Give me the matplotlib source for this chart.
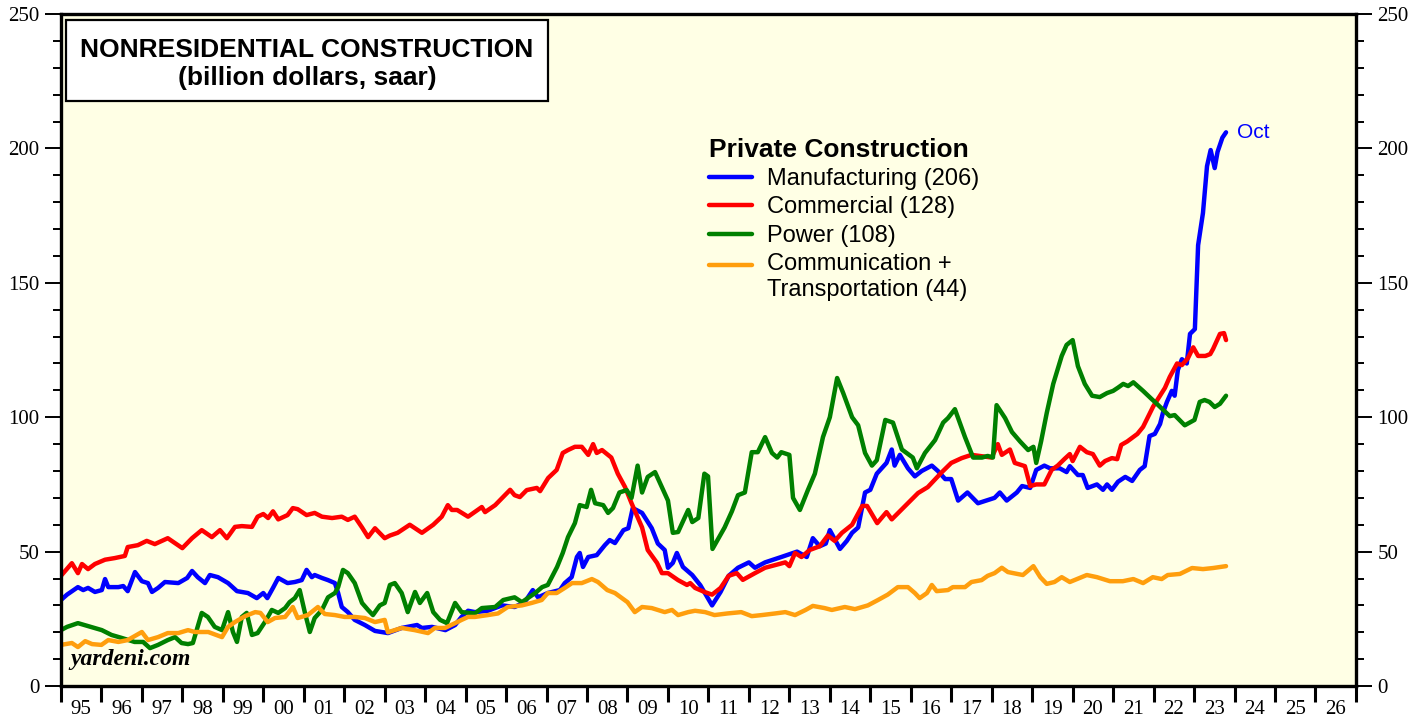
import numpy as np
import matplotlib
matplotlib.use("Agg")
import matplotlib.pyplot as plt
from matplotlib.patches import Rectangle
from matplotlib.ticker import MultipleLocator

# ---- data (billion dollars, saar): (year fraction, value) ----
mfg_t = [1995.00, 1995.15, 1995.42, 1995.55, 1995.67, 1995.84, 1996.01, 1996.09, 1996.17, 1996.42,
         1996.54, 1996.65, 1996.83, 1997.00, 1997.15, 1997.25, 1997.40, 1997.57, 1997.90, 1998.12,
         1998.24, 1998.38, 1998.56, 1998.68, 1998.88, 1999.13, 1999.35, 1999.62, 1999.84, 2000.00,
         2000.10, 2000.24, 2000.37, 2000.60, 2000.78, 2000.95, 2001.07, 2001.20, 2001.27, 2001.45,
         2001.60, 2001.77, 2001.85, 2001.94, 2002.09, 2002.26, 2002.51, 2002.76, 2003.08, 2003.42,
         2003.80, 2003.92, 2004.17, 2004.50, 2004.74, 2004.90, 2005.06, 2005.23, 2005.55, 2005.90,
         2006.21, 2006.46, 2006.66, 2006.79, 2007.03, 2007.33, 2007.45, 2007.62, 2007.75, 2007.82,
         2007.90, 2008.03, 2008.24, 2008.44, 2008.56, 2008.69, 2008.90, 2009.02, 2009.13, 2009.36,
         2009.60, 2009.75, 2009.92, 2010.00, 2010.12, 2010.22, 2010.37, 2010.60, 2010.80, 2011.09,
         2011.30, 2011.50, 2011.73, 2012.00, 2012.15, 2012.40, 2012.80, 2013.19, 2013.43, 2013.58,
         2013.75, 2013.90, 2014.00, 2014.25, 2014.42, 2014.55, 2014.70, 2014.87, 2015.00, 2015.16,
         2015.40, 2015.53, 2015.60, 2015.73, 2015.93, 2016.10, 2016.27, 2016.52, 2016.67, 2016.85,
         2017.00, 2017.17, 2017.40, 2017.66, 2018.07, 2018.20, 2018.37, 2018.62, 2018.75, 2018.95,
         2019.10, 2019.30, 2019.44, 2019.68, 2019.85, 2019.93, 2020.13, 2020.25, 2020.37, 2020.60,
         2020.75, 2020.85, 2020.97, 2021.12, 2021.30, 2021.47, 2021.66, 2021.78, 2021.90, 2022.03,
         2022.16, 2022.23, 2022.33, 2022.45, 2022.52, 2022.60, 2022.70, 2022.82, 2022.90, 2023.02,
         2023.10, 2023.22, 2023.32, 2023.41, 2023.51, 2023.58, 2023.70, 2023.79]
mfg_v = [32, 34, 36.8, 35.7, 36.5, 35, 35.7, 39.8, 36.8, 36.8,
         37.2, 35.3, 42.4, 39, 38.3, 35, 36.5, 38.7, 38.3, 40.2,
         42.8, 40.5, 38.3, 41.3, 40.5, 38.3, 35.3, 34.6, 32.7, 34.6,
         32.7, 36.5, 40.2, 38.3, 38.7, 39.4, 43.2, 40.5, 41.3, 40.2,
         39.4, 38.3, 34.6, 29.4, 27.5, 24.6, 22.7, 20.5, 19.7, 21.6,
         22.7, 21.6, 22, 20.8, 22.7, 25.7, 28, 27.5, 28, 30,
         29.4, 31.2, 35.7, 33, 34.6, 35.7, 38.3, 40.5, 48, 49.5,
         44.3, 48, 48.7, 52.4, 54.3, 53.2, 58, 58.7, 66.2, 64.4,
         58.7, 53, 50.6, 44, 45.8, 49.5, 44.3, 41.3, 37.5, 30,
         35, 41, 44, 46, 44, 46, 48, 50, 48, 55,
         52, 53, 58, 51, 54, 57, 59, 72, 73, 79,
         83, 88, 82, 86, 81, 78, 80, 82, 80, 77,
         77, 69, 72, 68, 70, 72, 69, 72, 74.4, 73.7,
         80.4, 82, 81, 81, 79.6, 81.8, 78.5, 78.5, 73.7, 75,
         73, 75, 73, 76, 77.8, 76.3, 80.4, 81.8, 93, 93.8,
         97.5, 101.6, 105.7, 109.8, 108, 117.6, 121.6, 120, 131, 132.8,
         164, 176, 193.4, 199.4, 192.7, 198.7, 204, 206]

com_t = [1995.00, 1995.27, 1995.42, 1995.52, 1995.67, 1995.84, 1996.09, 1996.33, 1996.58, 1996.65,
         1996.90, 1997.12, 1997.32, 1997.64, 1998.00, 1998.24, 1998.48, 1998.73, 1998.93, 1999.10,
         1999.30, 1999.47, 1999.72, 1999.86, 2000.00, 2000.12, 2000.24, 2000.37, 2000.60, 2000.73,
         2000.85, 2001.07, 2001.27, 2001.45, 2001.70, 2001.94, 2002.09, 2002.26, 2002.44, 2002.59,
         2002.76, 2003.00, 2003.13, 2003.32, 2003.62, 2003.75, 2003.92, 2004.20, 2004.41, 2004.56,
         2004.66, 2004.79, 2005.06, 2005.40, 2005.48, 2005.73, 2006.10, 2006.21, 2006.34, 2006.51,
         2006.76, 2006.84, 2007.04, 2007.25, 2007.40, 2007.53, 2007.70, 2007.87, 2008.03, 2008.15,
         2008.24, 2008.37, 2008.60, 2008.76, 2008.94, 2009.10, 2009.36, 2009.50, 2009.73, 2009.85,
         2010.00, 2010.25, 2010.47, 2010.55, 2010.67, 2010.90, 2011.09, 2011.30, 2011.50, 2011.70,
         2011.85, 2012.15, 2012.40, 2012.65, 2012.90, 2013.00, 2013.14, 2013.30, 2013.50, 2013.75,
         2013.95, 2014.12, 2014.30, 2014.55, 2014.80, 2014.92, 2015.17, 2015.40, 2015.53, 2015.86,
         2016.18, 2016.42, 2016.77, 2017.00, 2017.26, 2017.50, 2018.00, 2018.15, 2018.25, 2018.45,
         2018.57, 2018.82, 2018.95, 2019.10, 2019.30, 2019.48, 2019.63, 2019.80, 2019.93, 2020.00,
         2020.18, 2020.35, 2020.50, 2020.67, 2020.80, 2020.97, 2021.10, 2021.20, 2021.35, 2021.60,
         2021.74, 2021.87, 2021.99, 2022.16, 2022.28, 2022.40, 2022.58, 2022.70, 2022.85, 2022.98,
         2023.10, 2023.28, 2023.40, 2023.47, 2023.64, 2023.74, 2023.79]
com_v = [41, 45.7, 42, 45.4, 43.5, 45.4, 47, 47.6, 48.4, 51.7,
         52.4, 54, 52.8, 55, 51.3, 55, 58, 55.4, 58, 55,
         59.2, 59.5, 59.2, 63, 64, 62.5, 65, 62, 63.6, 66.2,
         65.8, 63.6, 64.4, 63, 62.5, 63, 61.8, 63, 59, 55.4,
         58.7, 55, 56, 57, 60, 58.7, 57, 60, 63, 67.3,
         65.5, 65.5, 63, 66.6, 64.7, 67.3, 73, 71, 70.3, 72.9,
         73.7, 72.5, 77.4, 80.4, 86.7, 87.8, 89, 89, 86, 90,
         86.7, 87.8, 85, 79, 74, 68, 59, 50.6, 45.8, 42,
         42, 39.4, 37.6, 38.3, 36.5, 35, 34, 36.5, 41, 42,
         39.5, 42, 44, 45, 46, 44.6, 49.5, 48, 50.6, 52,
         56, 54, 57, 60, 67, 67, 60.6, 64.7, 62, 67,
         71.8, 74, 79.6, 83, 84.8, 86, 85, 90, 86, 88,
         83, 81.8, 74.4, 75, 75, 80.4, 82, 84.5, 86.3, 83.7,
         89, 87, 86.3, 82, 83.7, 84.8, 84.4, 89.7, 91, 93.8,
         96.4, 100.4, 104, 108, 110.9, 115, 120, 119.4, 122, 126,
         122.8, 122.8, 123.5, 125.4, 131, 131.3, 128.7]

pow_t = [1995.00, 1995.15, 1995.42, 1995.67, 1996.01, 1996.25, 1996.50, 1996.82, 1997.03, 1997.20,
         1997.40, 1997.64, 1997.82, 1997.98, 1998.14, 1998.26, 1998.48, 1998.63, 1998.80, 1998.98,
         1999.13, 1999.25, 1999.35, 1999.47, 1999.59, 1999.72, 1999.86, 2000.04, 2000.21, 2000.37,
         2000.54, 2000.65, 2000.78, 2000.90, 2001.03, 2001.15, 2001.27, 2001.45, 2001.60, 2001.77,
         2001.85, 2001.97, 2002.09, 2002.26, 2002.44, 2002.59, 2002.71, 2002.88, 2003.00, 2003.13,
         2003.25, 2003.42, 2003.57, 2003.75, 2003.87, 2004.05, 2004.20, 2004.37, 2004.54, 2004.74,
         2004.90, 2005.23, 2005.40, 2005.73, 2005.93, 2006.21, 2006.39, 2006.72, 2006.89, 2007.03,
         2007.26, 2007.40, 2007.53, 2007.70, 2007.82, 2007.99, 2008.10, 2008.20, 2008.40, 2008.52,
         2008.64, 2008.80, 2008.98, 2009.10, 2009.25, 2009.36, 2009.50, 2009.68, 2009.85, 2010.00,
         2010.12, 2010.25, 2010.50, 2010.60, 2010.75, 2010.90, 2010.99, 2011.10, 2011.40, 2011.58,
         2011.73, 2011.90, 2012.07, 2012.22, 2012.40, 2012.57, 2012.70, 2012.80, 2013.00, 2013.09,
         2013.26, 2013.46, 2013.63, 2013.83, 2014.00, 2014.18, 2014.33, 2014.55, 2014.70, 2014.87,
         2015.04, 2015.16, 2015.37, 2015.56, 2015.78, 2016.05, 2016.15, 2016.35, 2016.60, 2016.80,
         2016.92, 2017.09, 2017.34, 2017.54, 2017.76, 2017.90, 2018.03, 2018.12, 2018.33, 2018.50,
         2018.70, 2018.90, 2019.03, 2019.10, 2019.22, 2019.36, 2019.52, 2019.73, 2019.85, 2020.00,
         2020.13, 2020.30, 2020.48, 2020.67, 2020.85, 2021.00, 2021.12, 2021.25, 2021.37, 2021.50,
         2021.74, 2021.95, 2022.08, 2022.27, 2022.40, 2022.52, 2022.77, 2023.01, 2023.14, 2023.26,
         2023.38, 2023.51, 2023.64, 2023.79]
pow_v = [20.8, 22, 23.4, 22.3, 20.8, 19, 17.9, 16.4, 16.4, 14.1,
         15.3, 17.1, 18.2, 16, 15.6, 16, 27.2, 25.7, 22, 20.8,
         27.5, 20.1, 16.4, 25.7, 27.2, 19, 19.7, 23.8, 28.3, 27.2,
         29, 31.2, 32.7, 35.7, 27.2, 20.1, 25.3, 28.3, 33, 34.6,
         36.8, 43.2, 42, 38.3, 30.9, 28.3, 26.4, 30, 30.9, 37.6,
         38.3, 34.6, 27.5, 35, 30.9, 34.6, 27.5, 24.6, 23.4, 30.9,
         27.5, 27, 29, 29.4, 32, 33, 31.2, 34.6, 36.8, 37.6,
         44.3, 49.5, 55.4, 60.6, 67.3, 66.6, 73, 68, 67.3, 64.4,
         66.2, 72, 72.9, 70, 82, 72, 77.8, 79.6, 74, 69,
         57, 57.3, 65.5, 61, 62.5, 79, 78, 51, 59, 65,
         71, 72, 87, 87, 92.6, 86.7, 85, 87, 86, 70,
         65.5, 73, 79, 92.6, 100, 114.6, 109, 100, 97, 86.7,
         82, 84, 99, 98, 88, 85, 81, 86.7, 91.5, 98,
         99.7, 103, 92.6, 85, 85, 85.6, 85, 104.5, 99.7, 94.5,
         91, 87.8, 89, 83, 91, 101.6, 112.4, 122.8, 126.9, 128.7,
         119, 112.4, 108, 107.5, 109, 109.8, 111, 112.4, 111.6, 113,
         109.8, 106.8, 105, 102.3, 100.4, 100.8, 97, 99, 105.7, 106.4,
         105.7, 103.8, 105, 108]

ct_t = [1995.00, 1995.27, 1995.42, 1995.60, 1995.77, 1996.00, 1996.17, 1996.42, 1996.65, 1997.00,
        1997.15, 1997.40, 1997.64, 1997.90, 1998.14, 1998.31, 1998.64, 1998.98, 1999.13, 1999.30,
        1999.55, 1999.80, 1999.93, 2000.11, 2000.29, 2000.54, 2000.73, 2000.85, 2001.10, 2001.35,
        2001.52, 2001.77, 2002.01, 2002.26, 2002.51, 2002.76, 2003.00, 2003.08, 2003.42, 2003.74,
        2004.07, 2004.24, 2004.49, 2004.74, 2004.90, 2005.06, 2005.23, 2005.55, 2005.80, 2006.04,
        2006.39, 2006.63, 2006.88, 2007.03, 2007.25, 2007.45, 2007.63, 2007.87, 2008.12, 2008.27,
        2008.50, 2008.69, 2009.00, 2009.18, 2009.36, 2009.60, 2009.92, 2010.10, 2010.25, 2010.50,
        2010.67, 2010.92, 2011.15, 2011.47, 2011.81, 2012.07, 2012.32, 2012.65, 2012.90, 2013.14,
        2013.40, 2013.58, 2013.87, 2014.05, 2014.37, 2014.62, 2014.94, 2015.19, 2015.43, 2015.68,
        2015.93, 2016.10, 2016.22, 2016.40, 2016.52, 2016.64, 2016.92, 2017.04, 2017.34, 2017.50,
        2017.75, 2017.90, 2018.07, 2018.25, 2018.40, 2018.60, 2018.77, 2019.03, 2019.20, 2019.36,
        2019.55, 2019.73, 2019.93, 2020.35, 2020.60, 2020.92, 2021.24, 2021.50, 2021.74, 2021.98,
        2022.20, 2022.35, 2022.65, 2022.95, 2023.22, 2023.47, 2023.79]
ct_v = [15.3, 16, 14.5, 16.7, 15.6, 15.3, 17.1, 16.4, 17.1, 20.1,
        17.1, 18.2, 19.7, 19.7, 20.8, 20.1, 20.1, 18.2, 22, 23.8,
        26, 27.5, 27.2, 23.8, 25.3, 25.7, 29.4, 25.3, 26.4, 29.4,
        26.8, 26.4, 25.7, 25.7, 25.3, 23.8, 24.6, 20, 21.6, 20.8,
        19.7, 21.6, 21.6, 23.4, 24.6, 25.7, 25.7, 26.4, 27, 29.4,
        30, 30.9, 32, 34.6, 34.6, 36.5, 38.3, 38.3, 39.8, 38.7,
        35.7, 34.6, 31.2, 27.5, 29.4, 29, 27.5, 28.3, 26.4, 27.5,
        28, 27.5, 26.4, 27, 27.5, 26, 26.4, 27, 27.5, 26.4,
        28.3, 29.8, 29, 28.3, 29.4, 28.6, 30, 32, 34, 36.8,
        36.8, 34.6, 32.7, 34.6, 37.6, 35.3, 35.7, 36.8, 36.8, 38.7,
        39.4, 41, 42, 44, 42.4, 41.8, 41.3, 44.6, 40.5, 38,
        38.7, 40.5, 38.7, 41.3, 40.5, 39, 39, 39.8, 38.3, 40.5,
        39.8, 41.3, 41.7, 43.9, 43.5, 43.9, 44.6]

series = [
    (mfg_t, mfg_v, "#0000FF", "Manufacturing (206)"),
    (com_t, com_v, "#FF0000", "Commercial (128)"),
    (pow_t, pow_v, "#008000", "Power (108)"),
    (ct_t, ct_v, "#FF9E0D", "Communication +\nTransportation (44)"),
]
years = list(range(1995, 2028))
year_labels = ["%02d" % (y % 100) for y in range(1995, 2027)]

SANS = "Liberation Sans"
SERIF = "Liberation Serif"

fig = plt.figure(figsize=(14.27, 7.17), dpi=100)
ax = fig.add_axes([0.0427, 0.0432, 0.9075, 0.9372])
ax.set_facecolor("#FFFFE5")

handles = []
for t, v, col, lab in series:
    ln, = ax.plot(t, v, color=col, lw=3.2, label=lab, solid_capstyle="round",
                  solid_joinstyle="round")
    handles.append(ln)

ax.set_xlim(1995, 2027)
ax.set_ylim(0, 250)

# x axis: year ticks, labels between them
ax.set_xticks(years)
ax.set_xticklabels([])
ax.set_xticks([y + 0.5 for y in years[:-1]], minor=True)
ax.set_xticklabels(year_labels, minor=True, fontfamily=SERIF, fontsize=15)
ax.tick_params(axis="x", which="major", direction="out", length=11.5, width=2.2)
ax.tick_params(axis="x", which="minor", length=0, pad=10)

# y axis on both sides
ax.yaxis.set_major_locator(MultipleLocator(50))
ax.yaxis.set_minor_locator(MultipleLocator(10))
ax.tick_params(axis="y", which="both", direction="out", left=True, right=True,
               labelleft=True, labelright=True)
ax.tick_params(axis="y", which="major", length=11.5, width=1.4, pad=4, labelsize=15)
ax.tick_params(axis="y", which="minor", length=6, width=1.4)
for tk in ax.yaxis.get_major_ticks():
    tk.label1.set_fontfamily(SERIF)
    tk.label2.set_fontfamily(SERIF)

for sp in ax.spines.values():
    sp.set_linewidth(2.4)

# title box
ax.add_patch(Rectangle((0.0039, 0.8705), 0.372, 0.1205, transform=ax.transAxes,
                       facecolor="white", edgecolor="black", lw=1.6, zorder=5))
ax.text(0.19, 0.947, "NONRESIDENTIAL CONSTRUCTION", transform=ax.transAxes,
        ha="center", va="center", fontsize=19, fontweight="bold", family=SANS, zorder=6)
ax.text(0.19, 0.905, "(billion dollars, saar)", transform=ax.transAxes,
        ha="center", va="center", fontsize=19, fontweight="bold", family=SANS, zorder=6)

# legend
leg = ax.legend(handles=handles, loc="upper left", bbox_to_anchor=(0.5004, 0.816),
                frameon=False, title="Private Construction", alignment="left",
                prop={"family": SANS, "size": 17},
                title_fontproperties={"family": SANS, "size": 19, "weight": "bold"},
                handlelength=1.82, handletextpad=0.64, labelspacing=0.27,
                borderpad=0, borderaxespad=0)
for h in leg.legend_handles:
    h.set_linewidth(3.2)
# two-line entry: put its line next to the first text line
last = leg.legend_handles[-1]
last.set_ydata(np.asarray(last.get_ydata()) + 8.5)

# last-month tag
ax.annotate("Oct", xy=(mfg_t[-1], mfg_v[-1]), xytext=(8, 0), textcoords="offset points",
            color="#0000FF", fontsize=15, family=SANS, va="center", ha="left")

ax.text(0.007, 0.024, "yardeni.com", transform=ax.transAxes, fontsize=17,
        family=SERIF, fontweight="bold", fontstyle="italic", ha="left", va="bottom")

fig.savefig("out.png", dpi=100)
